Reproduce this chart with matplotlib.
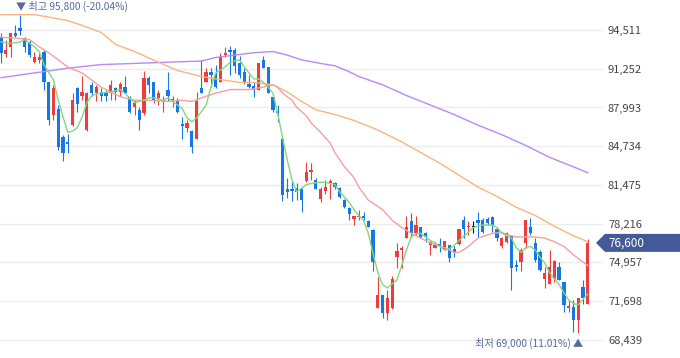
import matplotlib
import numpy as np

matplotlib.use("Agg")
import matplotlib.pyplot as plt
from matplotlib.patches import Polygon
from matplotlib.transforms import blended_transform_factory

# daily candles, oldest first
opens = [93900, 92500, 93100, 94300, 94700, 93800, 93500, 91800, 92000, 92700,
         90100, 87400, 87900, 85500, 85100, 86500, 89600, 89000, 86100, 89900,
         89200, 89300, 89300, 89200, 89600, 89300, 89700, 88900, 88000, 87800,
         87500, 90500, 90100, 88800, 88500, 89500, 88500, 88600, 86600, 86300,
         86000, 85300, 89600, 90100, 91000, 90700, 90100, 92400, 92800, 92800,
         91700, 91000, 90000, 89800, 89500, 92000, 91400, 88900, 87700, 85300,
         81100, 81100, 81200, 81100, 81800, 82600, 81900, 80300, 81000, 81600,
         81600, 81200, 80200, 79500, 78600, 78800, 78900, 78400, 77700, 71100,
         72200, 70700, 71100, 75400, 76000, 77000, 78400, 77400, 77900, 77400,
         76400, 76200, 76500, 76000, 76400, 76100, 76500, 78500, 77900, 77900,
         78500, 78500, 78600, 78800, 77800, 76300, 76700, 77200, 74700, 75000,
         76600, 77900, 76600, 75800, 73600, 73100, 73600, 74600, 73300, 71100,
         71200, 70100, 72900, 71500]
highs = [94300, 93700, 94300, 94900, 95800, 93900, 93700, 92700, 92700, 92800,
         90100, 89900, 88200, 85700, 85800, 89200, 89700, 90600, 89300, 90100,
         89900, 89600, 89500, 90300, 89700, 90100, 90600, 89000, 88600, 88000,
         91100, 90600, 90100, 89500, 89000, 91000, 89000, 88800, 87200, 86900,
         86100, 89300, 92000, 91300, 91300, 91600, 92600, 93100, 93200, 93000,
         92300, 91300, 90700, 90100, 91700, 92300, 91400, 89000, 88200, 85400,
         82100, 81800, 81600, 81200, 83400, 83300, 82100, 81300, 81900, 82000,
         81700, 81300, 80300, 79600, 78900, 79400, 79200, 78500, 77800, 73700,
         72200, 72600, 73800, 76600, 76300, 78900, 79100, 78900, 77900, 77500,
         76800, 76700, 77000, 76800, 76400, 76300, 77800, 78900, 78400, 78400,
         79200, 78700, 78800, 78900, 77900, 77100, 77500, 77300, 75200, 76200,
         78500, 78700, 77000, 76000, 74600, 76000, 75200, 75000, 73300, 71800,
         71800, 72000, 73500, 76900]
lows = [91700, 92200, 92200, 93900, 94100, 92700, 92200, 91700, 91700, 89500,
        86500, 86900, 84400, 83500, 84200, 86400, 87600, 88600, 86000, 89000,
        88500, 88500, 88500, 88600, 88600, 89000, 89200, 87500, 87400, 86100,
        87400, 89200, 88400, 88200, 87600, 88500, 88000, 87500, 85300, 85900,
        84200, 85300, 89200, 90100, 89700, 89600, 90100, 92200, 90700, 90900,
        90500, 90000, 89600, 88900, 89500, 91300, 89200, 87600, 86800, 80100,
        80400, 80100, 80200, 79200, 81700, 81900, 81100, 80000, 80700, 80300,
        81100, 80400, 79500, 78500, 78100, 78500, 78500, 77900, 74200, 71100,
        70300, 70100, 71000, 74500, 74500, 77000, 77100, 77300, 77000, 76700,
        75600, 76200, 75800, 76000, 75000, 75400, 76400, 77000, 77300, 77400,
        77100, 77400, 78100, 77500, 76800, 76200, 76600, 72600, 74200, 74200,
        76200, 77300, 75000, 74200, 72800, 73100, 73300, 73500, 70800, 70800,
        69100, 69000, 71500, 71500]
closes = [92600, 92800, 94300, 94000, 94400, 93100, 92400, 92200, 92200, 90100,
          86900, 89600, 84700, 84200, 84900, 88600, 88300, 89300, 89200, 89200,
          89700, 89000, 89000, 89900, 89300, 90000, 89200, 87600, 88400, 86900,
          90500, 89900, 88600, 89200, 88600, 89000, 88700, 87600, 86400, 86700,
          84700, 88500, 89200, 91000, 90700, 89700, 92200, 92600, 92700, 91500,
          90700, 90100, 89700, 89500, 91700, 91300, 89200, 87800, 87500, 80600,
          80900, 81000, 80900, 80200, 82600, 82700, 81100, 81100, 81300, 81800,
          81300, 80500, 79600, 79000, 78900, 78900, 78700, 77900, 75000, 72200,
          70700, 72000, 73600, 75900, 76200, 77900, 77400, 78100, 77100, 77200,
          76700, 76400, 76300, 76800, 75300, 75800, 77800, 77800, 78000, 77900,
          78300, 77500, 78300, 78100, 77000, 77000, 77400, 74500, 74600, 76000,
          78500, 77400, 75200, 74300, 74100, 74600, 75100, 73500, 71400, 71300,
          70100, 72000, 72000, 76600]

# moving averages (candle index, price)
ma5_idx = [0, 2, 4, 5, 7, 8, 9, 11, 12, 13, 14, 15, 16, 17, 18, 19, 21, 23, 25, 27,
           28, 30, 31, 32, 34, 35, 36, 38, 39, 40, 41, 43, 44, 45, 47, 48, 50, 51, 52, 53,
           54, 55, 56, 57, 58, 59, 60, 61, 62, 63, 64, 65, 67, 68, 70, 71, 73, 74, 75, 76,
           77, 78, 79, 80, 81, 83, 84, 85, 86, 87, 88, 89, 90, 91, 92, 93, 94, 95, 96, 98,
           99, 101, 103, 104, 105, 107, 108, 109, 110, 111, 112, 113, 114, 115, 116, 117,
           118, 119, 120, 121, 123]
ma5_val = [93500, 93400, 93500, 93700, 93100, 92700, 91600, 90300, 88600, 87200,
           85900, 86000, 86300, 87200, 88400, 89000, 89200, 89300, 89500, 88800,
           88400, 88600, 88800, 88800, 88600, 88800, 88500, 87900, 87100, 86800,
           87100, 88200, 89700, 90900, 91400, 91800, 92000, 91400, 90900, 90400,
           90400, 90100, 89700, 89200, 87500, 85500, 83600, 81900, 80900, 81200,
           81500, 81600, 81700, 81700, 81500, 80900, 80000, 79400, 78900, 78500,
           77400, 75700, 74100, 73100, 72800, 73500, 74700, 76000, 77100, 77400,
           77400, 77100, 76800, 76600, 76300, 76000, 76100, 76400, 76800, 77500,
           77900, 78100, 78100, 77900, 77400, 77000, 76200, 75800, 76200, 76300,
           76000, 75400, 74900, 74100, 73600, 73100, 72400, 71800, 71500, 71400,
           72300]
ma20_idx = [0, 4, 6, 8, 10, 12, 14, 17, 19, 21, 23, 25, 28, 31, 35, 38, 40, 42, 45, 48,
            50, 52, 55, 57, 58, 59, 61, 62, 64, 65, 67, 69, 70, 72, 74, 75, 77, 80, 82, 84,
            86, 88, 90, 93, 95, 96, 98, 100, 103, 105, 106, 108, 110, 112, 114, 116, 118,
            120, 122, 123]
ma20_val = [93900, 93800, 93700, 93100, 92600, 92000, 91400, 90900, 90300, 89700,
            89300, 88900, 88600, 88600, 88500, 88600, 88500, 88800, 89200, 89500,
            89500, 89500, 89700, 89900, 89700, 89200, 88600, 88000, 87300, 86700,
            85900, 85000, 84200, 83000, 82100, 81300, 80200, 79400, 78500, 77900,
            77400, 77000, 76600, 76200, 75800, 75800, 76300, 77000, 77400, 77500,
            77300, 77100, 77100, 77100, 77000, 76700, 76300, 75600, 75000, 74700]
ma60_idx = [0, 7, 10, 14, 17, 21, 24, 28, 33, 37, 42, 45, 50, 53, 57, 60, 63, 66, 70, 74,
            79, 84, 88, 92, 96, 100, 104, 108, 112, 116, 120, 123]
ma60_val = [95800, 95800, 95600, 95300, 94900, 94300, 93300, 92700, 91800, 91100,
            90600, 90400, 90100, 90100, 89900, 89300, 88500, 87800, 87400, 86900,
            86100, 85100, 84200, 83300, 82300, 81300, 80500, 79600, 78900, 78000,
            77200, 76700]
ma120_idx = [0, 7, 14, 21, 28, 35, 42, 45, 49, 53, 57, 60, 63, 67, 70, 73, 75, 80, 85, 90,
             95, 100, 105, 110, 115, 120, 123]
ma120_val = [90500, 90900, 91300, 91600, 91700, 91800, 91900, 92200, 92400, 92600,
             92700, 92400, 92000, 91700, 91500, 91000, 90600, 89900, 89000, 88200,
             87400, 86500, 85700, 84800, 83800, 83000, 82500]

price_ticks = [68439, 71698, 74957, 78216, 81475, 84734, 87993, 91252, 94511]

RED = "#ef3b3d"
BLUE = "#1677e5"
LABEL = "#56689e"

plt.rcParams["font.family"] = ["Noto Sans CJK KR", "DejaVu Sans"]

W, H = 680, 358
fig = plt.figure(figsize=(W / 100, H / 100), dpi=100)
ax = fig.add_axes([0, 0, 603 / W, 1])
ymin, ymax = 66916, 97035
ax.set_xlim(-0.21, 126.2)
ax.set_ylim(ymin, ymax)

o = np.array(opens)
c = np.array(closes)
x = np.arange(len(c))
colors = np.where(c > o, RED, np.where(c < o, BLUE, "#111111"))

ax.vlines(x, lows, highs, colors=colors, linewidth=0.8, zorder=3)
ax.bar(x, np.maximum(np.abs(c - o), 90), bottom=np.minimum(o, c), width=0.68,
       color=colors, linewidth=0, zorder=3)

ax.plot(ma120_idx, ma120_val, color="#b98af3", lw=1.0, zorder=4)
ax.plot(ma60_idx, ma60_val, color="#f9b580", lw=1.0, zorder=4)
ax.plot(ma20_idx, ma20_val, color="#f5a0a0", lw=1.0, zorder=4)
ax.plot(ma5_idx, ma5_val, color="#80d97c", lw=1.0, zorder=4)

ax.set_yticks(price_ticks)
ax.set_yticklabels([f"{v:,}" for v in price_ticks])
ax.yaxis.tick_right()
ax.tick_params(axis="y", length=0, pad=3.6, labelsize=8, labelcolor="#444444")
ax.set_xticks([])
ax.grid(axis="y", color="#ececec", lw=1, zorder=0)
for s in ax.spines.values():
    s.set_visible(False)

# high / low markers
hi_i = int(np.argmax(highs))
lo_i = int(np.argmin(lows))
last = closes[-1]
hi_pct = (last - highs[hi_i]) / highs[hi_i] * 100
lo_pct = (last - lows[lo_i]) / lows[lo_i] * 100
ax.annotate(f"▼ 최고 {highs[hi_i]:,} ({hi_pct:.2f}%)", xy=(hi_i, highs[hi_i]),
            xytext=(-4, 8), textcoords="offset pixels", ha="left", va="center",
            fontsize=7.3, fontweight="medium", color=LABEL, zorder=6)
ax.annotate(f"최저 {lows[lo_i]:,} ({lo_pct:.2f}%) ▲", xy=(lo_i, lows[lo_i]),
            xytext=(5, -10), textcoords="offset pixels", ha="right", va="center",
            fontsize=7.3, fontweight="medium", color=LABEL, zorder=6)

# current price tag on the right
ppx = (ymax - ymin) / H
tr = blended_transform_factory(fig.transFigure, ax.transData)
half = 9 * ppx
tag = Polygon([(596 / W, last), (605 / W, last + half), (1.0, last + half),
               (1.0, last - half), (605 / W, last - half)], closed=True,
              transform=tr, facecolor="#435a99", edgecolor="none", clip_on=False)
fig.add_artist(tag)
fig.text(608 / W, last, f"{last:,}", transform=tr, ha="left", va="center",
         fontsize=8.5, color="white")

fig.savefig("out.png", dpi=100)
